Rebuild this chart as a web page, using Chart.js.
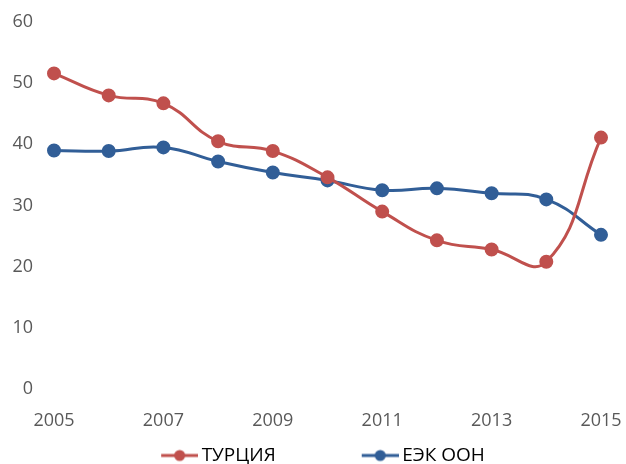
<!DOCTYPE html>
<html>
<head>
<meta charset="utf-8">
<script src="https://cdn.jsdelivr.net/npm/chart.js@4/dist/chart.umd.min.js"></script>
<style>
    html, body { margin: 0; padding: 0; background: #fff; overflow: hidden; }
    #wrap { width: 626px; height: 475px; position: relative; }
</style>
</head>
<body>
<div id="wrap"><canvas id="chart"></canvas></div>
<script>
// данные графика
const years = ['2005', '2006', '2007', '2008', '2009', '2010', '2011', '2012', '2013', '2014', '2015'];
const turkey = [51.6, 48.0, 46.7, 40.5, 38.9, 34.6, 29.0, 24.3, 22.8, 20.8, 41.1];
const unece = [39.0, 38.9, 39.5, 37.2, 35.4, 34.1, 32.5, 32.8, 32.0, 31.0, 25.2];
const seriesNames = ['ТУРЦИЯ', 'ЕЭК ООН'];

const RED = '#C0504D';
const BLUE = '#315E97';
const FONT = '"Open Sans", sans-serif';
const ICON_W = 76;

/**
 * Значок легенды: линия с кружком, прижат вправо (слева пустое место)
 */
function legendIcon(color) {
    const c = document.createElement('canvas');
    c.width = ICON_W + 12;
    c.height = 14;
    const g = c.getContext('2d');
    const end = c.width;
    g.strokeStyle = color;
    g.lineWidth = 3;
    g.beginPath();
    g.moveTo(end - 37, 7);
    g.lineTo(end, 7);
    g.stroke();
    g.fillStyle = color;
    g.beginPath();
    g.arc(end - 18.5, 7, 5.5, 0, Math.PI * 2);
    g.fill();
    return c;
}

const icons = [legendIcon(RED), legendIcon(BLUE)];

function makeDataset(label, data, color) {
    return {
        label,
        data,
        borderColor: color,
        backgroundColor: color,
        pointBackgroundColor: color,
        pointBorderColor: color,
        borderWidth: 3,
        pointRadius: 5.5,
        pointHoverRadius: 5.5,
        tension: 0.45,
        fill: false,
        clip: false,
    };
}

new Chart(document.getElementById('chart'), {
    type: 'line',
    data: {
        labels: years,
        datasets: [
            makeDataset(seriesNames[0], turkey, RED),
            makeDataset(seriesNames[1], unece, BLUE),
        ],
    },
    options: {
        responsive: true,
        maintainAspectRatio: false,
        animation: false,
        layout: {
            padding: { top: 22, right: 25, bottom: 0, left: 0 },
        },
        plugins: {
            tooltip: { enabled: false },
            legend: {
                position: 'bottom',
                labels: {
                    usePointStyle: true,
                    pointStyleWidth: ICON_W,
                    padding: 41,
                    color: '#000',
                    font: { family: FONT, size: 19 },
                    generateLabels(chart) {
                        return chart.data.datasets.map((ds, i) => ({
                            text: ds.label,
                            pointStyle: icons[i],
                            fillStyle: ds.borderColor,
                            strokeStyle: ds.borderColor,
                            lineWidth: 0,
                            hidden: false,
                            datasetIndex: i,
                            fontColor: '#000',
                        }));
                    },
                },
            },
        },
        scales: {
            x: {
                offset: false,
                grid: { display: false, drawTicks: false },
                border: { display: false },
                ticks: {
                    autoSkip: false,
                    maxRotation: 0,
                    // mirror + отрицательный отступ: подписи ниже оси без обрезки
                    mirror: true,
                    padding: -43,
                    color: '#595959',
                    font: { family: FONT, size: 18 },
                    callback(value, index) {
                        return index % 2 === 0 ? years[index] : '';
                    },
                },
                afterFit(scale) {
                    scale.height = 16;
                    scale.paddingLeft = 0;
                    scale.paddingRight = 0;
                },
            },
            y: {
                min: 0,
                max: 60,
                grid: { display: false, drawTicks: false },
                border: { display: false },
                ticks: {
                    stepSize: 10,
                    padding: 21,
                    color: '#595959',
                    font: { family: FONT, size: 18 },
                },
                afterFit(scale) {
                    scale.width = 54;
                    scale.paddingTop = 0;
                    scale.paddingBottom = 0;
                },
            },
        },
    },
});
</script>
</body>
</html>
